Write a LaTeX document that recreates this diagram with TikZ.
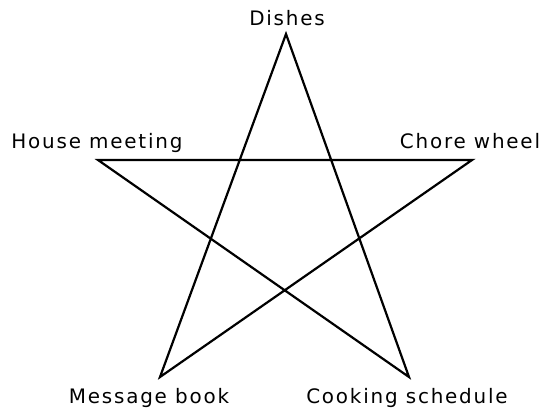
\documentclass[tikz,border=0pt]{standalone}
\usepackage{fontspec}
\setmainfont{DejaVu Sans}[LetterSpace=9]
\begin{document}
\begin{tikzpicture}[x=1bp,y=-1bp,
  lbl/.style={inner sep=0pt,anchor=base,font=\fontsize{20}{22}\selectfont},
  edge/.style={line width=2.2bp,line join=miter}]
\useasboundingbox (0,0) rectangle (544,414);
\coordinate (D) at (286,34);
\coordinate (H) at (98,160);
\coordinate (C) at (472,160);
\coordinate (M) at (160,377);
\coordinate (K) at (409,377);
\node[lbl] (dl) at (287,25) {Dishes};
\node[lbl] (hl) at (97,148) {House meeting};
\node[lbl] (cl) at (470,148) {Chore wheel};
\node[lbl] (ml) at (149,403) {Message book};
\node[lbl] (kl) at (407,403) {Cooking schedule};
\draw[edge] (D) -- (K) -- (H) -- (C) -- (M) -- cycle;
\end{tikzpicture}
\end{document}
